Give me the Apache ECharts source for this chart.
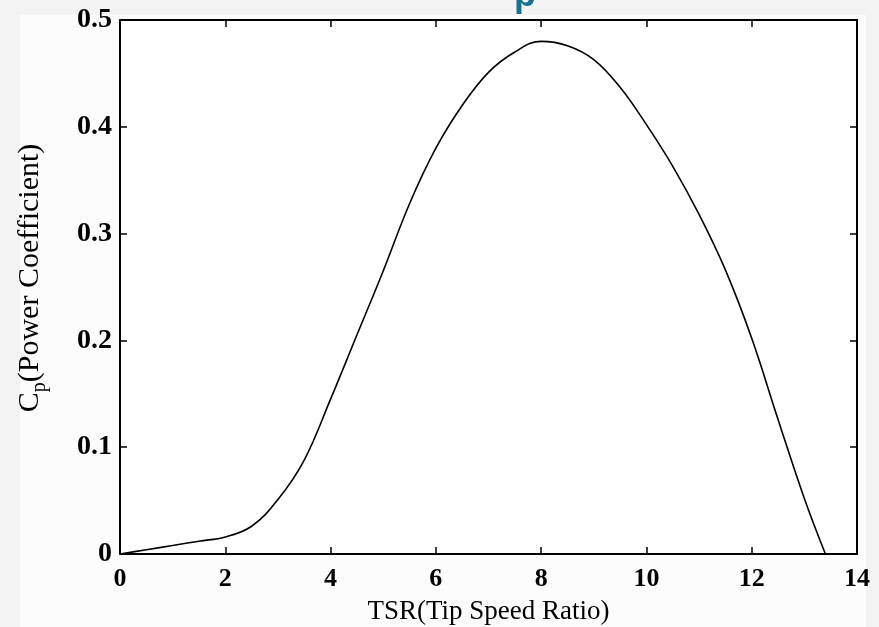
<!DOCTYPE html>
<html>
<head>
<meta charset="utf-8">
<script src="https://cdn.jsdelivr.net/npm/echarts@6/dist/echarts.min.js"></script>
<style>html,body{margin:0;padding:0;background:#f3f3f3;}#c{width:879px;height:627px;}</style>
</head>
<body>
<div id="c"></div>
<script>
// Tip speed ratio (x) and power coefficient (y)
var tsr = [0, 0.5, 1, 1.5, 2, 2.5, 3, 3.5, 4, 4.5, 5, 5.5, 6, 6.5, 7, 7.5, 8, 8.5, 9, 9.5, 10, 10.5, 11, 11.5, 12, 12.5, 13, 13.4];
var cp  = [0, 0.004, 0.008, 0.012, 0.016, 0.026, 0.051, 0.088, 0.145, 0.205, 0.265, 0.328, 0.380, 0.420, 0.451, 0.470, 0.480, 0.476, 0.463, 0.437, 0.402, 0.363, 0.318, 0.266, 0.202, 0.126, 0.052, 0.0];
var xTicks = [0, 2, 4, 6, 8, 10, 12, 14];
var yTicks = [0, 0.1, 0.2, 0.3, 0.4, 0.5];
var xName = 'TSR(Tip Speed Ratio)';

var points = tsr.map(function (x, i) { return [x, cp[i]]; });
var serif = '"Liberation Serif","Times New Roman",serif';
var chart = echarts.init(document.getElementById('c'));

var tickStyle = { show: true, inside: true, length: 7, lineStyle: { color: '#000', width: 1.5 } };
var lineStyleAx = { show: true, onZero: false, lineStyle: { color: '#000', width: 2 } };

chart.setOption({
  backgroundColor: '#f3f3f3',
  animation: false,
  graphic: [
    { type: 'rect', shape: { x: 20, y: 15, width: 846, height: 612 }, style: { fill: '#fcfcfc' }, z: -10 },
    { type: 'text', left: 514, top: -22, style: { text: 'p', font: 'bold 36px "Liberation Sans",Arial,sans-serif', fill: '#17728c' }, z: -5 }
  ],
  grid: { left: 120, right: 22, top: 20, bottom: 73, show: true, backgroundColor: '#ffffff', borderWidth: 0,
    containLabel: false, outerBoundsMode: 'none' },
  xAxis: [{
    type: 'value', min: 0, max: 14, interval: 2,
    axisLine: lineStyleAx, axisTick: tickStyle, splitLine: { show: false },
    axisLabel: { color: '#000', fontFamily: serif, fontWeight: 'bold', fontSize: 26, margin: 12 },
    name: xName, nameLocation: 'middle', nameGap: 44,
    nameTextStyle: { color: '#000', fontFamily: serif, fontSize: 27 }
  }, {
    type: 'value', position: 'top', min: 0, max: 14, interval: 2,
    axisLine: lineStyleAx, axisTick: tickStyle, axisLabel: { show: false }, splitLine: { show: false }
  }],
  yAxis: [{
    type: 'value', min: 0, max: 0.5, interval: 0.1,
    axisLine: lineStyleAx, axisTick: tickStyle, splitLine: { show: false },
    axisLabel: { color: '#000', fontFamily: serif, fontWeight: 'bold', fontSize: 28, margin: 8 },
    name: '{c|C}{s|p}{c|(Power Coefficient)}', nameLocation: 'middle', nameGap: 70, nameRotate: 90,
    nameTextStyle: {
      padding: [0, 0, 0, 18],
      rich: {
        c: { color: '#000', fontFamily: serif, fontSize: 30 },
        s: { color: '#000', fontFamily: serif, fontSize: 20, padding: [20, 0, 0, 0] }
      }
    }
  }, {
    type: 'value', position: 'right', min: 0, max: 0.5, interval: 0.1,
    axisLine: lineStyleAx, axisTick: tickStyle, axisLabel: { show: false }, splitLine: { show: false }
  }],
  series: [{
    type: 'line', data: points, smooth: 0.4, showSymbol: false, symbol: 'none',
    lineStyle: { color: '#000', width: 1.6 }, clip: true
  }]
});
</script>
</body>
</html>
